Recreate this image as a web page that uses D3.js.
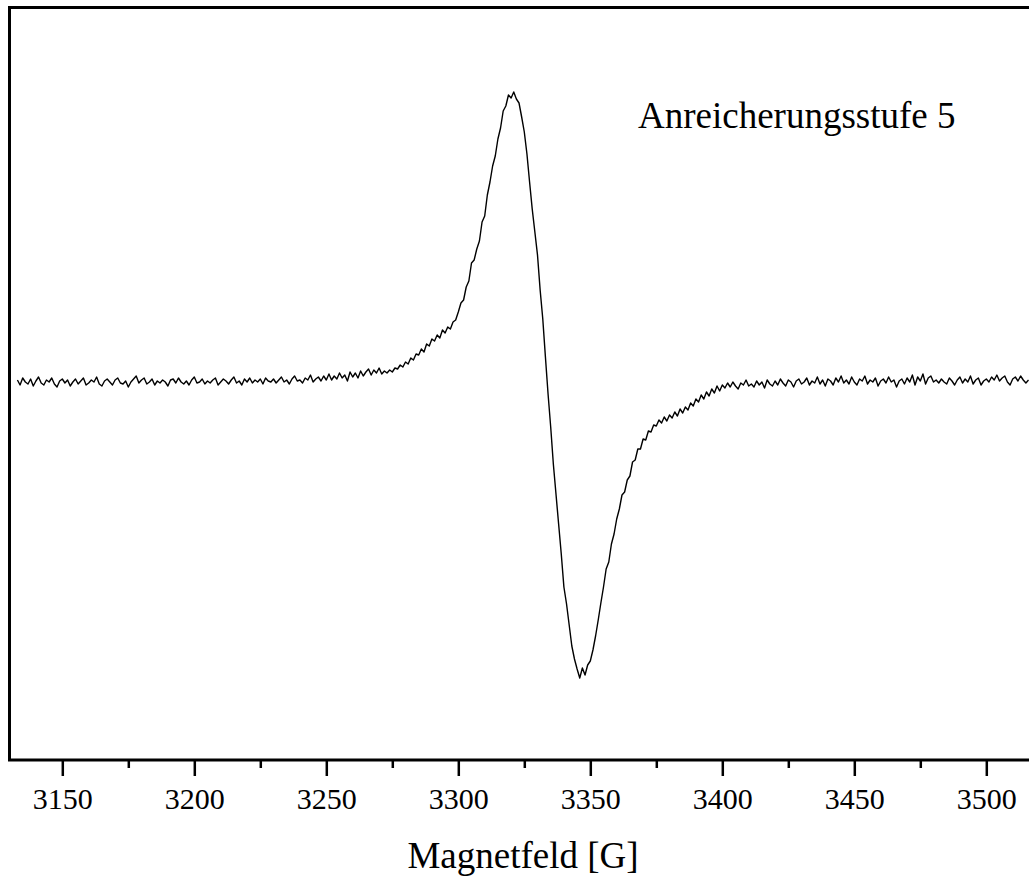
<!DOCTYPE html>
<html>
  <head>
    <meta charset="utf-8">
    <script src="https://d3js.org/d3.v7.min.js"></script>
    <style>
      body { margin: 0; background: #fff; }
      svg { display: block; }
      svg text { font-family: "Liberation Serif", "Times New Roman", serif !important; fill: #000; }
    </style>
  </head>
  <body>
    <script>
      // EPR spectrum, field sampled every 1 G starting at fieldStart
      const fieldStart = 3133
      const fieldStep = 1
      const signal = [
        // 3133 - 3250
        2, -3, 4, 0, -2, 3, -4, 1, 5, -1,
        -3, 2, 0, 4, -2, -5, 1, 3, -1, 2,
        -4, 0, 3, -2, 1, 4, -3, -1, 2, 0,
        5, -2, -4, 1, 3, 0, -3, 2, 4, -1,
        -2, 1, -5, 0, 3, 6, -1, 2, 4, -2,
        0, 3, -3, 1, -1, 2, 0, -4, 2, 3,
        -1, 4, 0, -2, 1, -3, 2, 5, -1, 0,
        3, -2, 1, -1, 2, 4, -3, 0, 3, 1,
        -2, 2, 5, -1, 1, -3, 3, 0, 4, -1,
        2, 0, 3, -2, 4, 1, 0, 3, -1, 2,
        5, 0, 2, -2, 3, 6, 1, 2, -1, 4,
        2, 7, 0, 3, 5, 1, 6, 2,
        // 3251 - 3300
        8, 2, 6, 3, 9, 4, 7, 1, 10, 5,
        9, 4, 11, 6, 10, 13, 7, 12, 9, 14,
        8, 11, 9, 12, 10, 14, 13, 17, 15, 20,
        18, 24, 22, 28, 27, 33, 30, 38, 36, 43,
        41, 47, 44, 52, 49, 55, 53, 60, 62, 70,
        // 3301 - 3354
        79, 82, 95, 101, 119, 122, 133, 141, 160, 166,
        187, 200, 216, 226, 243, 254, 271, 276, 287, 284,
        290, 283, 279, 265, 250, 228, 200, 173, 150, 127,
        92, 63, 25, -12, -45, -82, -112, -142, -172, -205,
        -222, -243, -264, -277, -287, -296, -286, -293, -283, -279,
        -268, -254, -238, -221,
        // 3355 - 3400
        -205, -187, -180, -162, -152, -137, -127, -113, -110, -98,
        -94, -80, -78, -67, -67, -57, -58, -49, -50, -43,
        -44, -38, -41, -35, -39, -33, -36, -30, -34, -27,
        -31, -25, -28, -21, -24, -17, -20, -13, -17, -10,
        -14, -7, -11, -4, -9, -3,
        // 3401 - 3516
        -6, -1, -5, 0, -4, -7, -1, -3, 2, -4,
        -2, -5, 1, -3, 0, -6, 2, -2, -4, 1,
        -3, 3, -1, -4, 2, 0, -5, 1, 3, -2,
        0, 4, -3, 1, -1, 5, -2, 2, -4, 3,
        1, -3, 4, 0, 6, -1, 2, -2, 5, 0,
        -3, 3, 1, 6, -2, 2, 0, 4, -4, 1,
        3, -1, 5, 0, 2, -5, 1, 3, -2, 4,
        0, 7, -3, 5, 1, 8, -2, 4, 6, 0,
        2, -1, 3, 0, -2, 4, 1, -3, 2, 5,
        -1, 3, 0, 6, -2, 2, 4, -3, 1, 3,
        0, 5, 2, 7, 1, 4, 6, 0, -3,
        3, 5, 1, 6, 2, -1, 2
      ]
      const majorTicks = [3150, 3200, 3250, 3300, 3350, 3400, 3450, 3500]
      const minorTicks = [3175, 3225, 3275, 3325, 3375, 3425, 3475]
      const sampleLabel = "Anreicherungsstufe 5"
      const xTitle = "Magnetfeld [G]"

      const w = 1029
      const h = 877
      const frameLeft = 9.5
      const frameTop = 7.5
      const frameBottom = 760
      const serif = "'Liberation Serif', 'Times New Roman', serif"

      const svg = d3.select("body")
        .append("svg")
          .attr("width", w)
          .attr("height", h)

      const xScale = d3.scaleLinear()
        .domain([3130, 3520])
        .range([frameLeft, frameLeft + 390 * 2.64])
      const yScale = d3.scaleLinear()
        .domain([-378, 374.5])
        .range([frameBottom, frameTop])

      const data = signal.map((v, i) => [fieldStart + i * fieldStep, v])

      // minor ticks
      svg.append("g")
        .attr("transform", "translate(0," + frameBottom + ")")
        .call(d3.axisBottom(xScale).tickValues(minorTicks).tickSize(8).tickFormat(""))
        .call(g => g.select(".domain").remove())
        .call(g => g.selectAll("line").attr("stroke", "#000").attr("stroke-width", 2.5))

      // major ticks with labels
      const xAxis = svg.append("g")
        .attr("transform", "translate(0," + frameBottom + ")")
        .call(d3.axisBottom(xScale).tickValues(majorTicks).tickSize(16).tickPadding(12).tickFormat(d3.format("d")))
      xAxis.attr("font-family", serif).attr("font-size", 30)
      xAxis.select(".domain").remove()
      xAxis.selectAll("line").attr("stroke", "#000").attr("stroke-width", 2.5)
      xAxis.selectAll("text")
        .style("font-family", serif)
        .style("font-size", "30px")
        .attr("fill", "#000")

      // frame: left, top, bottom (right side cut off)
      svg.append("path")
        .attr("d", "M" + (w + 20) + "," + frameTop + "H" + frameLeft + "V" + frameBottom + "H" + (w + 20))
        .attr("fill", "none")
        .attr("stroke", "#000")
        .attr("stroke-width", 3)

      const line = d3.line()
        .x(d => xScale(d[0]))
        .y(d => yScale(d[1]))

      svg.append("path")
        .datum(data)
        .attr("d", line)
        .attr("fill", "none")
        .attr("stroke", "#000")
        .attr("stroke-width", 1.4)
        .attr("stroke-linejoin", "round")

      svg.append("text")
        .attr("x", 638)
        .attr("y", 128)
        .style("font-size", "37px")
        .text(sampleLabel)

      svg.append("text")
        .attr("x", 523)
        .attr("y", 868)
        .attr("text-anchor", "middle")
        .style("font-size", "37px")
        .text(xTitle)
    </script>
  </body>
</html>
